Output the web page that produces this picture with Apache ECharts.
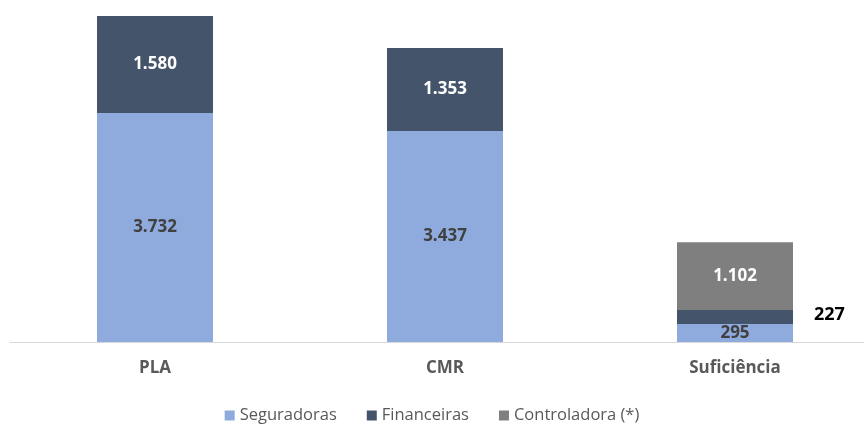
<!DOCTYPE html>
<html>
<head>
<meta charset="utf-8">
<title>PLA x CMR</title>
<script src="https://cdn.jsdelivr.net/npm/echarts@6/dist/echarts.min.js"></script>
<style>
  html, body { margin: 0; padding: 0; background: #fff; }
  #chart { width: 864px; height: 425px; }
</style>
</head>
<body>
<div id="chart"></div>
<script>
var categories = ['PLA', 'CMR', 'Suficiência'];
var seguradoras = [3732, 3437, 295];
var financeiras = [1580, 1353, 227];
var controladora = ['-', '-', 1102];

// formato pt-BR: 1.580
function fmt(v) {
  return String(v).replace(/\B(?=(\d{3})+(?!\d))/g, '.');
}

var font = 'Open Sans';

var myChart = echarts.init(document.getElementById('chart'));
var option = {
  animation: false,
  backgroundColor: '#fff',
  grid: { left: 10, right: -16, top: 16, bottom: 83, outerBoundsMode: 'none', containLabel: false },
  legend: {
    bottom: -4,
    left: 'center',
    itemWidth: 10,
    itemHeight: 10,
    itemGap: 30,
    icon: 'rect',
    textStyle: { color: '#595959', fontSize: 16.5, fontFamily: font },
    data: ['Seguradoras', 'Financeiras', 'Controladora (*)']
  },
  xAxis: {
    type: 'category',
    data: categories,
    axisLine: { lineStyle: { color: '#D9D9D9', width: 1 } },
    axisTick: { show: false },
    axisLabel: { color: '#595959', fontSize: 17, fontWeight: 'bold', fontFamily: font, margin: 18 }
  },
  yAxis: {
    type: 'value',
    min: 0,
    max: 5312,
    show: false,
    splitLine: { show: false }
  },
  series: [
    {
      name: 'Seguradoras',
      type: 'bar',
      stack: 'total',
      barWidth: 116,
      itemStyle: { color: '#8FAADC' },
      label: {
        show: true,
        position: 'inside',
        color: '#404040',
        fontSize: 17,
        fontWeight: 'bold',
        fontFamily: font,
        formatter: function (p) { return fmt(p.value); }
      },
      data: seguradoras
    },
    {
      name: 'Financeiras',
      type: 'bar',
      stack: 'total',
      itemStyle: { color: '#44546A' },
      label: {
        show: true,
        position: 'inside',
        color: '#fff',
        fontSize: 17,
        fontWeight: 'bold',
        fontFamily: font,
        formatter: function (p) { return fmt(p.value); }
      },
      data: financeiras.map(function (v, i) {
        if (i === 2) {
          return { value: v, label: { position: 'right', distance: 21, color: '#000', fontSize: 18, offset: [0, -2] } };
        }
        return v;
      })
    },
    {
      name: 'Controladora (*)',
      type: 'bar',
      stack: 'total',
      itemStyle: { color: '#7F7F7F' },
      label: {
        show: true,
        position: 'inside',
        color: '#fff',
        fontSize: 17,
        fontWeight: 'bold',
        fontFamily: font,
        formatter: function (p) { return fmt(p.value); }
      },
      data: controladora
    }
  ]
};
myChart.setOption(option);
</script>
</body>
</html>
